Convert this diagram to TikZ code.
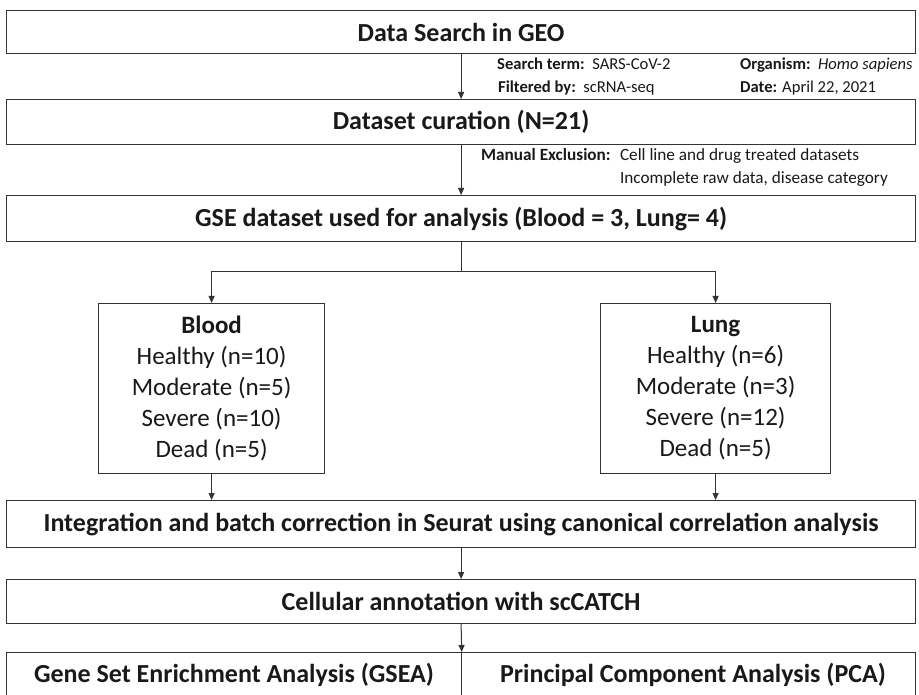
\documentclass[tikz,border=0pt]{standalone}
\usepackage{fontspec}
\setmainfont{Carlito}
\usetikzlibrary{arrows.meta}
\begin{document}
\begin{tikzpicture}[x=1pt,y=-1pt,
  box/.style={draw=black!80, line width=1.2pt, inner sep=0pt, anchor=north west, text=black!90},
  title/.style={font=\fontsize{26}{30}\selectfont\bfseries},
  note/.style={font=\fontsize{16.6}{20}\selectfont, anchor=base west, inner sep=0pt, text=black!90},
  arr/.style={-{Triangle[length=7pt,width=6pt]}, line width=1pt, draw=black!80},
  ln/.style={line width=1pt, draw=black!80},
  group/.style={font=\fontsize{25}{31}\selectfont, align=center}
]
\useasboundingbox (0,0) rectangle (919,695);
\clip (0,0) rectangle (919,695);
\fill[white] (0,0) rectangle (919,695);

\node[box, title, minimum width=909, minimum height=43] (geo) at (6,10) {Data Search in GEO};
\node[box, title, minimum width=909, minimum height=45] (cur) at (6,99) {Dataset curation (N=21)};
\node[box, title, minimum width=909, minimum height=46] (gse) at (6,195) {GSE dataset used for analysis (Blood = 3, Lung= 4)};

\node[box, group, minimum width=226, minimum height=170] (blood) at (98,303)
  {\textbf{Blood}\\Healthy (n=10)\\Moderate (n=5)\\Severe (n=10)\\Dead (n=5)};
\node[box, group, minimum width=230, minimum height=170] (lung) at (600,303)
  {\textbf{Lung}\\Healthy (n=6)\\Moderate (n=3)\\Severe (n=12)\\Dead (n=5)};

\node[box, title, minimum width=909, minimum height=47] (integ) at (6,500) {Integration and batch correction in Seurat using canonical correlation analysis};
\node[box, title, minimum width=909, minimum height=44] (cell) at (6,579) {Cellular annotation with scCATCH};
\node[box, minimum width=454.5, minimum height=70] (gsea) at (6,652) {};
\node[box, minimum width=454.5, minimum height=70] (pca) at (460.5,652) {};
\node[title, text=black!90] (gseaT) at (234,675) {Gene Set Enrichment Analysis (GSEA)};
\node[title, text=black!90] (pcaT) at (693,675) {Principal Component Analysis (PCA)};

% annotations
\node[note] (st) at (497,70) {\textbf{Search term:}\ \ SARS-CoV-2};
\node[note] (org) at (740,70) {\textbf{Organism:}\ \ \textit{Homo sapiens}};
\node[note] (fb) at (498,93) {\textbf{Filtered by:}\ \ scRNA-seq};
\node[note] (dt) at (740,93) {\textbf{Date:} April 22, 2021};
\node[note, font=\fontsize{17.2}{20}\selectfont] (meL) at (481,161) {\textbf{Manual Exclusion:}};
\node[note, font=\fontsize{17.2}{20}\selectfont, xshift=9pt] (me1) at (meL.base east) {Cell line and drug treated datasets};
\node[note, font=\fontsize{17.2}{20}\selectfont] (me2) at ([yshift=-23pt]me1.base west) {Incomplete raw data, disease category};

% connectors
\draw[arr] (geo.south) -- (cur.north);
\draw[arr] (cur.south) -- (gse.north);
\coordinate (split) at (gse.south |- 0,272);
\draw[ln] (gse.south) -- (split);
\draw[arr] (split) -| (blood.north);
\draw[arr] (split) -| (lung.north);
\draw[arr] (blood.south) -- (blood.south |- integ.north);
\draw[arr] (lung.south) -- (lung.south |- integ.north);
\draw[arr] (integ.south) -- (cell.north);
\draw[arr] (cell.south) -- (gsea.north east);
\end{tikzpicture}
\end{document}
